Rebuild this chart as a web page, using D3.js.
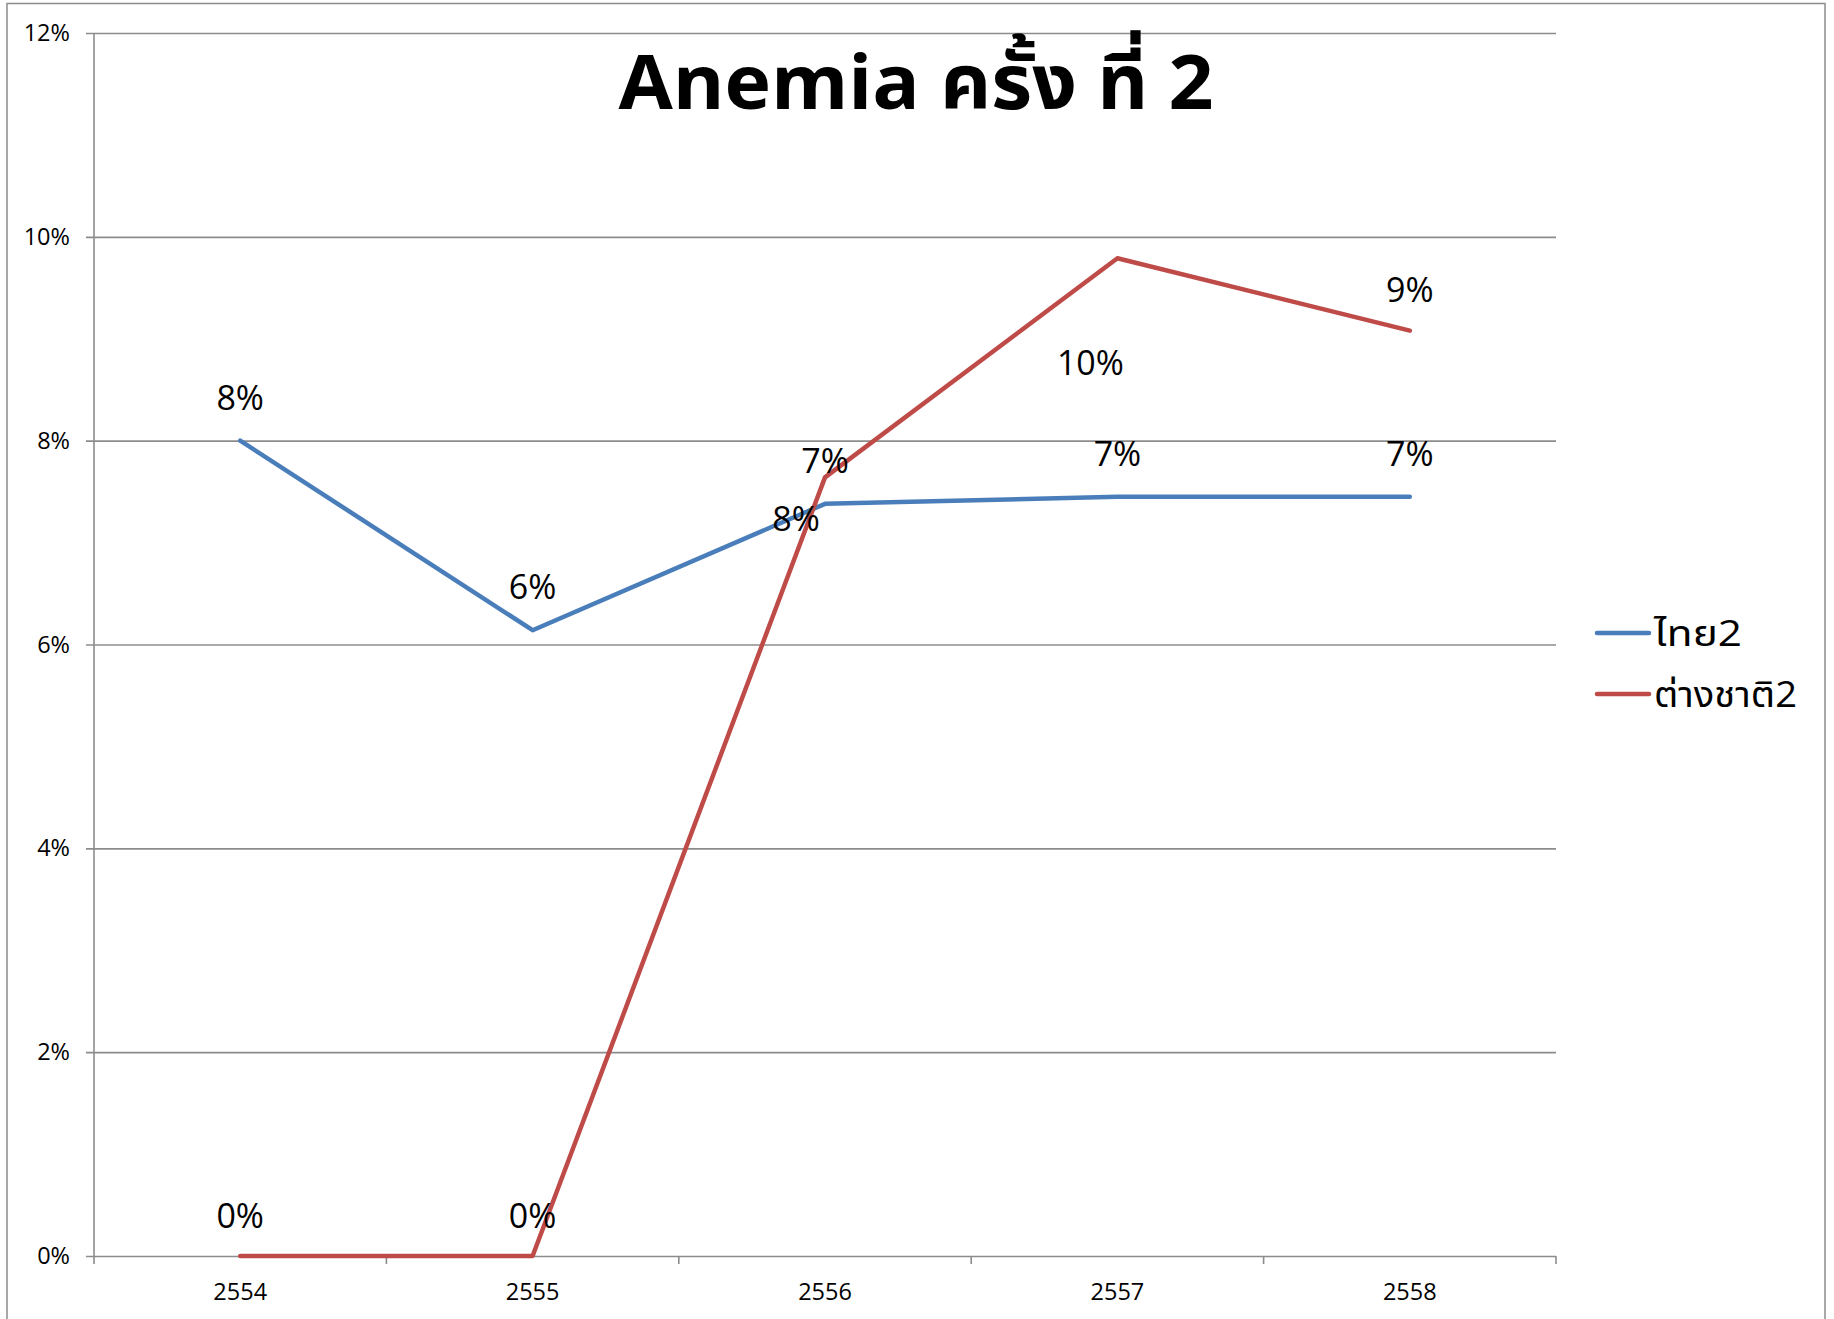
<!DOCTYPE html>
<html>
<head>
<meta charset="utf-8">
<script src="https://cdn.jsdelivr.net/npm/d3@7"></script>
<style>
  body { margin: 0; background: #fff; }
  svg { display: block; font-family: "Open Sans", "Noto Sans Thai", "Noto Sans", sans-serif; }
</style>
</head>
<body>
<div id="chart"></div>
<script>
// Chart values
const years = ["2554", "2555", "2556", "2557", "2558"];
const thaiValues = [0.0800, 0.0614, 0.0738, 0.0745, 0.0745];
const foreignValues = [0, 0, 0.0764, 0.0979, 0.0908];
const yTicks = [0, 0.02, 0.04, 0.06, 0.08, 0.10, 0.12];
const seriesNames = ["ไทย2", "ต่างชาติ2"];
const titleText = "Anemia ครั้ง ที่ 2";

// Excel labels that were dragged off their default spot (pixels)
const thaiLabelNudge = [[0, 0], [0, 0], [0, 0], [0, 0], [0, 0]];
const foreignLabelNudge = [[0, 0], [0, 0], [-29, 82], [-27, 145], [0, 0]];

const width = 1834, height = 1319;
const margin = { top: 33, right: 278, bottom: 63, left: 94 };

const svg = d3.select("#chart")
    .append("svg")
    .attr("width", width)
    .attr("height", height);

// Outer chart border
svg.append("rect")
    .attr("x", 7).attr("y", 3.5)
    .attr("width", 1818).attr("height", 1340)
    .attr("fill", "none")
    .attr("stroke", "#8c8c8c")
    .attr("stroke-width", 1.5);

const x = d3.scaleBand()
    .domain(years)
    .range([margin.left, width - margin.right]);

const y = d3.scaleLinear()
    .domain([0, 0.12])
    .range([height - margin.bottom, margin.top]);

// Horizontal gridlines + y axis labels
const yAxis = svg.append("g")
    .attr("transform", `translate(${margin.left},0)`)
    .call(d3.axisLeft(y)
        .tickValues(yTicks)
        .tickFormat(d3.format(".0%"))
        .tickSizeInner(-(width - margin.right - margin.left))
        .tickSizeOuter(0)
        .tickPadding(24));
yAxis.select(".domain").remove();
yAxis.selectAll(".tick line")
    .attr("x1", -8)
    .attr("stroke", "#8c8c8c")
    .attr("stroke-width", 1.6);
yAxis.selectAll(".tick text")
    .attr("font-size", 23.5)
    .attr("fill", "#000")
    .attr("font-family", "'Open Sans', sans-serif");

// Vertical axis line
svg.append("line")
    .attr("x1", margin.left).attr("x2", margin.left)
    .attr("y1", y(0.12)).attr("y2", y(0))
    .attr("stroke", "#8c8c8c")
    .attr("stroke-width", 1.6);

// Category axis: labels centred, ticks between categories
const xAxis = svg.append("g")
    .attr("transform", `translate(0,${y(0)})`)
    .call(d3.axisBottom(x).tickSize(0).tickPadding(27));
xAxis.select(".domain").remove();
xAxis.selectAll(".tick text")
    .attr("font-size", 23.5)
    .attr("fill", "#000")
    .attr("font-family", "'Open Sans', sans-serif");

const boundaries = years.map(d => x(d)).concat([x.range()[1]]);
svg.append("g")
    .selectAll("line")
    .data(boundaries)
    .join("line")
    .attr("x1", d => d).attr("x2", d => d)
    .attr("y1", y(0)).attr("y2", y(0) + 8)
    .attr("stroke", "#8c8c8c")
    .attr("stroke-width", 1.6);

// Lines
const cx = d => x(d) + x.bandwidth() / 2;
const series = [
    { name: seriesNames[0], values: thaiValues, color: "#4a7ebb", nudge: thaiLabelNudge, lift: 43, legendWidth: 88 },
    { name: seriesNames[1], values: foreignValues, color: "#be4b48", nudge: foreignLabelNudge, lift: 40, legendWidth: 143 }
];

const line = d3.line()
    .x((d, i) => cx(years[i]))
    .y(d => y(d));

svg.selectAll(".series")
    .data(series)
    .join("path")
    .attr("class", "series")
    .attr("d", s => line(s.values))
    .attr("fill", "none")
    .attr("stroke", s => s.color)
    .attr("stroke-width", 4.5)
    .attr("stroke-linejoin", "round")
    .attr("stroke-linecap", "round");

// Data labels
series.forEach(s => {
    svg.append("g")
        .selectAll("text")
        .data(s.values)
        .join("text")
        .attr("x", (d, i) => cx(years[i]) + s.nudge[i][0])
        .attr("y", (d, i) => y(d) - s.lift + s.nudge[i][1])
        .attr("dy", "0.35em")
        .attr("text-anchor", "middle")
        .attr("font-size", 34)
        .attr("fill", "#000")
        .text(d => d3.format(".0%")(d));
});

// Title
svg.append("text")
    .attr("x", 916)
    .attr("y", 109)
    .attr("text-anchor", "middle")
    .attr("font-size", 76)
    .attr("font-weight", "bold")
    .attr("fill", "#000")
    .attr("textLength", 595)
    .attr("lengthAdjust", "spacingAndGlyphs")
    .text(titleText);

// Legend
const legend = svg.append("g")
    .selectAll("g")
    .data(series)
    .join("g")
    .attr("transform", (d, i) => `translate(1597,${633 + i * 61})`);
legend.append("line")
    .attr("x1", 0).attr("x2", 52)
    .attr("stroke", d => d.color)
    .attr("stroke-width", 4.5)
    .attr("stroke-linecap", "round");
legend.append("text")
    .attr("x", 57)
    .attr("dy", "0.35em")
    .attr("font-size", 36)
    .attr("fill", "#000")
    .attr("textLength", d => d.legendWidth)
    .attr("lengthAdjust", "spacingAndGlyphs")
    .text(d => d.name);
</script>
</body>
</html>
